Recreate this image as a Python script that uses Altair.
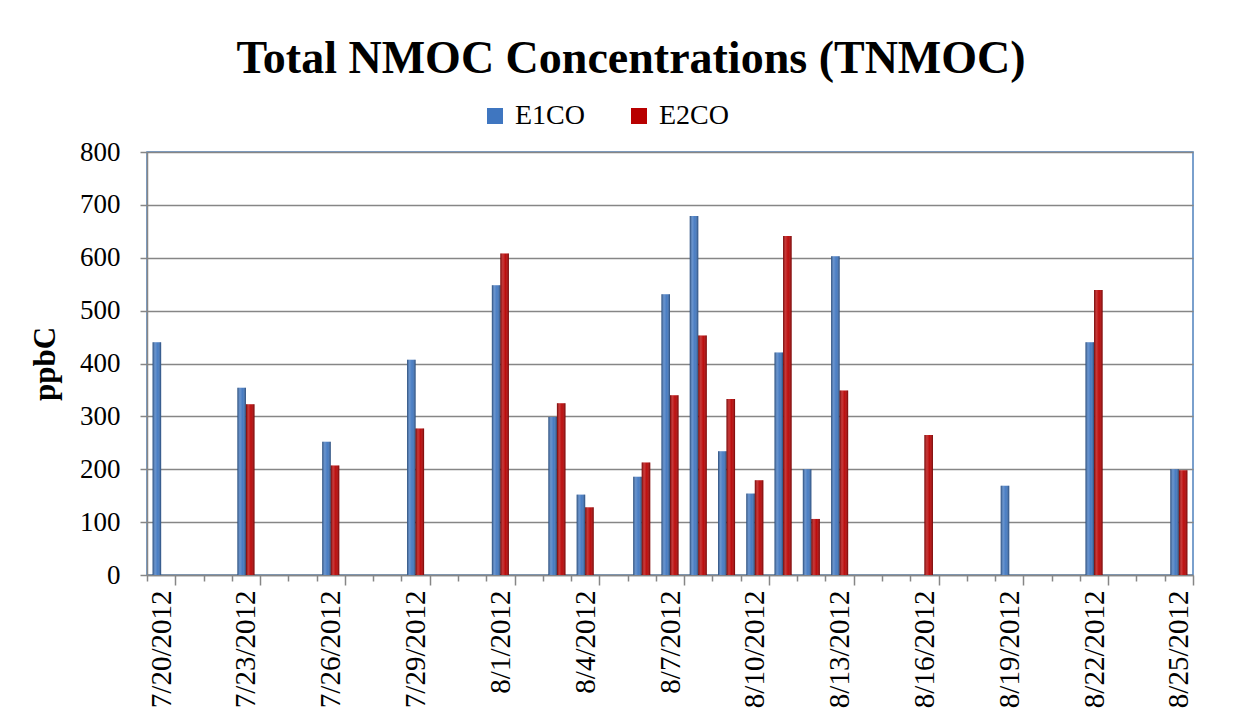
import json
import altair as alt
import pandas as pd

# ---- data ----
all_days = [d.strftime("%-m/%-d/%Y") for d in pd.date_range("2012-07-20", "2012-08-25")]
label_days = ["7/20/2012", "7/23/2012", "7/26/2012", "7/29/2012", "8/1/2012",
              "8/4/2012", "8/7/2012", "8/10/2012", "8/13/2012", "8/16/2012",
              "8/19/2012", "8/22/2012", "8/25/2012"]
sample_dates = ["7/20/2012", "7/23/2012", "7/26/2012", "7/29/2012", "8/1/2012",
                "8/3/2012", "8/4/2012", "8/6/2012", "8/7/2012", "8/8/2012",
                "8/9/2012", "8/10/2012", "8/11/2012", "8/12/2012", "8/13/2012",
                "8/16/2012", "8/19/2012", "8/22/2012", "8/25/2012"]
e1co = [440, 354, 252, 407, 548, 299, 152, 186, 531, 679, 234, 154, 421, 200, 603,
        None, 169, 440, 200]
e2co = [None, 323, 207, 277, 608, 325, 128, 213, 340, 453, 333, 179, 641, 106, 349,
        265, None, 539, 198]
series_names = ["E1CO", "E2CO"]
series_colors = ["#3F76C0", "#B80000"]
y_ticks = [0, 100, 200, 300, 400, 500, 600, 700, 800]

rows = []
for d, a, b in zip(sample_dates, e1co, e2co):
    if a is not None:
        rows.append({"date": d, "series": "E1CO", "value": a})
    if b is not None:
        rows.append({"date": d, "series": "E2CO", "value": b})
df = pd.DataFrame(rows)

FONT = "Liberation Serif"
GRAY = "#868686"
label_test = "indexof(" + json.dumps(label_days) + ", datum.value) >= 0"

x_enc = alt.X(
    "date:O",
    scale=alt.Scale(domain=all_days, paddingInner=0, paddingOuter=0),
    axis=alt.Axis(
        title=None,
        labelAngle=270,
        labelAlign="right",
        labelBaseline="middle",
        labelExpr=label_test + " ? datum.value : ''",
        labelOverlap=False,
        labelFont=FONT,
        labelFontSize=29,
        labelColor="black",
        labelPadding=5,
        domainColor=GRAY,
        domainWidth=1.5,
        tickColor=GRAY,
        tickWidth=1.5,
        tickBand="extent",
        tickSize={"condition": {"test": label_test, "value": 10}, "value": 6},
        grid=False,
    ),
)
xoff_enc = alt.XOffset(
    "series:N",
    scale=alt.Scale(domain=series_names, paddingInner=0, paddingOuter=0.66),
)
y_enc = alt.Y(
    "value:Q",
    scale=alt.Scale(domain=[0, 800], nice=False),
    axis=alt.Axis(
        values=y_ticks,
        title="ppbC",
        titleFont=FONT,
        titleFontSize=31,
        titleFontWeight="bold",
        titleColor="black",
        titlePadding=18,
        labelFont=FONT,
        labelFontSize=27,
        labelColor="black",
        labelPadding=20,
        grid=True,
        gridColor=GRAY,
        gridWidth=1.5,
        domainColor=GRAY,
        domainWidth=1.5,
        tickColor=GRAY,
        tickWidth=1.5,
        tickSize=7,
    ),
)

base = alt.Chart(df)

bars = base.mark_bar(stroke=None).encode(
    x=x_enc,
    xOffset=xoff_enc,
    y=y_enc,
    color=alt.Color(
        "series:N",
        scale=alt.Scale(domain=series_names, range=series_colors),
        legend=alt.Legend(
            orient="none",
            legendX=334,
            legendY=-50,
            direction="horizontal",
            title=None,
            symbolType="square",
            symbolSize=256,
            symbolStrokeWidth=0,
            labelFont=FONT,
            labelFontSize=28,
            labelColor="black",
            labelOffset=6,
            columnPadding=40,
        ),
    ),
)

shade = base.mark_bar(
    fill=alt.Gradient(
        gradient="linear", x1=0, x2=1, y1=0, y2=0,
        stops=[
            alt.GradientStop(offset=0, color="rgba(0,0,0,0.40)"),
            alt.GradientStop(offset=0.3, color="rgba(255,255,255,0.22)"),
            alt.GradientStop(offset=0.6, color="rgba(255,255,255,0.05)"),
            alt.GradientStop(offset=1, color="rgba(0,0,0,0.40)"),
        ],
    )
).encode(x=x_enc, xOffset=xoff_enc, y=y_enc)

chart = (
    alt.layer(bars, shade)
    .properties(
        width=1046,
        height=423,
        autosize=alt.AutoSizeParams(type="none"),
        padding={"left": 139, "top": 144, "right": 30, "bottom": 140},
        title=alt.TitleParams(
            "Total NMOC Concentrations (TNMOC)",
            font=FONT,
            fontSize=46,
            fontWeight="bold",
            color="black",
            anchor="middle",
            frame="group",
            baseline="alphabetic",
            dx=-39,
            dy=27,
            offset=10,
        ),
        background="white",
    )
    .configure(font=FONT)
    .configure_axis(labelFont=FONT, titleFont=FONT)
    .configure_legend(labelFont=FONT)
    .configure_view(stroke="#4F81BD", strokeWidth=1.5)
)

chart.save("out.html", embed_options={"renderer": "svg", "actions": False})
